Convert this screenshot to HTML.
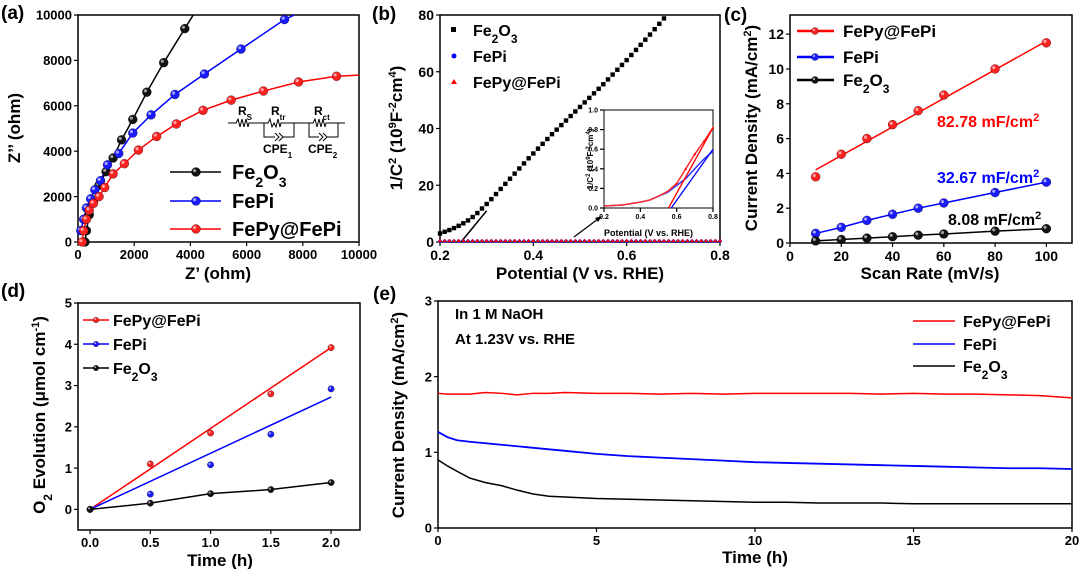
<!DOCTYPE html>
<html><head><meta charset="utf-8"><style>
body{margin:0;background:#fff}
svg{display:block;font-family:"Liberation Sans",Arial,sans-serif;font-weight:bold}
</style></head><body>
<svg id="fig" width="1080" height="569" viewBox="0 0 1080 569" xmlns="http://www.w3.org/2000/svg"></svg>
<script>
// ---- panel (a) EIS data ----
const aFe2O3X=[250,300,400,550,750,1000,1250,1550,1950,2450,3050,3800];
const aFe2O3Y=[0,500,1200,1800,2500,3100,3700,4500,5400,6600,7900,9400];
const aFePiX=[100,200,300,450,600,800,1050,1450,1950,2600,3450,4500,5800,7350];
const aFePiY=[500,1000,1500,1900,2300,2700,3400,3900,4800,5600,6500,7400,8500,9800];
const aFePyX=[150,200,300,400,550,750,950,1250,1650,2150,2800,3500,4450,5450,6600,7850,9200];
const aFePyY=[0,500,1000,1400,1700,2000,2400,3000,3450,4050,4650,5200,5800,6250,6650,7050,7300];
const aTicksX=[0,2000,4000,6000,8000,10000];
const aTicksY=[0,2000,4000,6000,8000,10000];
// ---- panel (b) Mott-Schottky ----
const bPot=[0.20,0.21,0.22,0.23,0.24,0.25,0.26,0.27,0.28,0.29,0.30,0.31,0.32,0.33,0.34,0.35,0.36,0.37,0.38,0.39,0.40,0.41,0.42,0.43,0.44,0.45,0.46,0.47,0.48,0.49,0.50,0.51,0.52,0.53,0.54,0.55,0.56,0.57,0.58,0.59,0.60,0.61,0.62,0.63,0.64,0.65,0.66,0.67,0.68];
const bFe2O3=[3,3.6,4.2,4.9,5.7,6.6,7.6,8.8,10.2,11.8,13.4,15.1,16.9,18.7,20.5,22.3,24.1,25.9,27.7,29.5,31.2,32.9,34.6,36.3,38,39.6,41.2,42.8,44.4,46,47.6,49.2,50.8,52.4,54,55.6,57.3,59,60.7,62.4,64.1,65.9,67.7,69.5,71.3,73.1,75,76.9,78.8];
const bFePiLevel=0.3;
const bFePyLevel=0.5;
const bTicksX=[0.2,0.4,0.6,0.8];
const bTicksY=[0,20,40,60,80];
const insPot=[0.2,0.3,0.4,0.45,0.5,0.55,0.6,0.65,0.7,0.75,0.8];
const insFePy=[0.02,0.03,0.06,0.08,0.12,0.17,0.25,0.40,0.55,0.68,0.82];
const insFePi=[0.02,0.03,0.06,0.08,0.12,0.16,0.23,0.30,0.40,0.50,0.58];
// ---- panel (c) ----
const cRate=[10,20,30,40,50,60,80,100];
const cFePy=[3.8,5.1,6.0,6.8,7.6,8.5,10.0,11.5];
const cFePi=[0.55,0.9,1.3,1.65,2.0,2.3,2.9,3.5];
const cFe2O3=[0.12,0.2,0.28,0.36,0.45,0.52,0.68,0.82];
const cFitFePy=[4.2,11.6];
const cTicksX=[0,20,40,60,80,100];
const cTicksY=[0,2,4,6,8,10,12];
// ---- panel (d) ----
const dTime=[0,0.5,1,1.5,2];
const dFePy=[0,1.1,1.85,2.8,3.92];
const dFePi=[0,0.37,1.08,1.82,2.92];
const dFe2O3=[0,0.15,0.38,0.48,0.65];
const dFitFePy=[0,3.92];
const dFitFePi=[0,2.72];
const dTicksX=[0,0.5,1,1.5,2];
const dTicksY=[0,1,2,3,4,5];
// ---- panel (e) ----
const eTime=[0,0.3,0.6,1,1.5,2,2.5,3,3.5,4,5,6,7,8,9,10,11,12,13,14,15,16,17,18,19,20];
const eFePy=[1.78,1.77,1.77,1.77,1.79,1.78,1.76,1.78,1.78,1.79,1.78,1.78,1.77,1.78,1.77,1.78,1.78,1.78,1.78,1.77,1.78,1.77,1.77,1.76,1.75,1.72];
const eFePi=[1.27,1.2,1.16,1.14,1.12,1.1,1.08,1.06,1.04,1.02,0.98,0.95,0.93,0.91,0.89,0.87,0.86,0.85,0.84,0.83,0.82,0.81,0.80,0.79,0.79,0.78];
const eFe2O3=[0.9,0.82,0.75,0.66,0.6,0.56,0.5,0.45,0.42,0.41,0.39,0.38,0.37,0.36,0.35,0.34,0.34,0.33,0.33,0.33,0.32,0.32,0.32,0.32,0.32,0.32];
const eTicksX=[0,5,10,15,20];
const eTicksY=[0,1,2,3];

const svg=document.getElementById('fig');
const NS='http://www.w3.org/2000/svg';
function mk(tag,attrs,name,parent){
  const e=document.createElementNS(NS,tag);
  for(const k in attrs)e.setAttribute(k,attrs[k]);
  
  
  (parent||svg).appendChild(e);
  return e;
}
function txt(x,y,s,size,name,opts){
  opts=opts||{};
  const t=mk('text',{x:x,y:y,'font-size':size,fill:opts.fill||'#000','text-anchor':opts.anchor||'start'},name);
  if(opts.rot)t.setAttribute('transform','rotate(-90 '+x+' '+y+')');
  t.innerHTML=s;
  return t;
}
function axes(c){
  const sx=v=>c.x0+(v-c.xmin)/(c.xmax-c.xmin)*(c.x1-c.x0);
  const sy=v=>c.y1-(v-c.ymin)/(c.ymax-c.ymin)*(c.y1-c.y0);
  mk('rect',{x:c.x0,y:c.y0,width:c.x1-c.x0,height:c.y1-c.y0,fill:'none',stroke:'#000','stroke-width':c.sw||1.5},c.p+'-frame');
  c.tx.forEach(v=>{
    mk('line',{x1:sx(v),x2:sx(v),y1:c.y1,y2:c.y1+4,stroke:'#000','stroke-width':1.2},c.p+'-x-tick');
    txt(sx(v),c.y1+(c.fs||14)+4,c.fx?c.fx(v):v,c.fs||14,c.p+'-x-tick-label',{anchor:'middle'});
  });
  c.ty.forEach(v=>{
    mk('line',{x1:c.x0-4,x2:c.x0,y1:sy(v),y2:sy(v),stroke:'#000','stroke-width':1.2},c.p+'-y-tick');
    txt(c.x0-6,sy(v)+(c.fs||14)*0.36,c.fy?c.fy(v):v,c.fs||14,c.p+'-y-tick-label',{anchor:'end'});
  });
  return {sx,sy};
}
function poly(xs,ys,A,col,name,w){
  mk('polyline',{points:xs.map((x,i)=>A.sx(x)+','+A.sy(ys[i])).join(' '),fill:'none',stroke:col,'stroke-width':w||1.5},name);
}
function ball(x,y,col,r,name){
  mk('circle',{cx:x,cy:y,r:r,fill:col,stroke:'#000','stroke-width':0.3},name);
  mk('circle',{cx:x-r*0.3,cy:y-r*0.3,r:r*0.35,fill:'#fff',opacity:0.6},name+'-shine');
}
function dots(xs,ys,A,col,name,r){xs.forEach((x,i)=>ball(A.sx(x),A.sy(ys[i]),col,r,name));}

// ===== (a) =====
txt(1,19,'(a)',19,'panel-a-label');
let A=axes({p:'a',x0:78,x1:359,y0:15,y1:242,xmin:0,xmax:10000,ymin:0,ymax:10000,tx:aTicksX,ty:aTicksY,fs:13});
poly(aFe2O3X.concat([4100]),aFe2O3Y.concat([10000]),A,'#000','a-line-fe2o3');
poly(aFePiX.concat([7700]),aFePiY.concat([10000]),A,'#0000ff','a-line-fepi');
poly(aFePyX.concat([10000]),aFePyY.concat([7350]),A,'#ff0000','a-line-fepy');
dots(aFe2O3X,aFe2O3Y,A,'#111','a-point-fe2o3',4.5);
dots(aFePiX,aFePiY,A,'#1a1aff','a-point-fepi',4.5);
dots(aFePyX,aFePyY,A,'#ff2020','a-point-fepy',4.5);
txt(20,128,'Z’’ (ohm)',17,'a-y-axis-title',{anchor:'middle',rot:1});
txt(218,279,'Z’ (ohm)',17,'a-x-axis-title',{anchor:'middle'});
[['#000','#111','Fe<tspan baseline-shift="sub" font-size="14">2</tspan>O<tspan baseline-shift="sub" font-size="14">3</tspan>',172],['#0000ff','#1a1aff','FePi',201],['#ff0000','#ff2020','FePy@FePi',229]].forEach((l,i)=>{
  mk('line',{x1:170,x2:221,y1:l[3],y2:l[3],stroke:l[0],'stroke-width':1.5},'a-legend-line');
  ball(196,l[3],l[1],4.5,'a-legend-marker');
  txt(232,l[3]+7,l[2],20,'a-legend-entry');
});
// circuit
const cg='#000';
mk('path',{d:'M228 123 H236 l2 -4 l2 8 l2 -8 l2 8 l2 -8 l2 8 l1 -4 H264 M264 123 H268 l2 -4 l2 8 l2 -4 l2 4 l2 -8 l2 8 l1 -4 H294 M264 123 V137 H275 M283 137 H294 V123 M294 123 H309 M309 123 H313 l2 -4 l2 8 l2 -8 l2 8 l2 -8 l2 8 l1 -4 H338 M309 123 V137 H319 M327 137 H338 V123 M338 123 H345 M275 133 l4 4 l-4 4 M279 133 l4 4 l-4 4 M319 133 l4 4 l-4 4 M323 133 l4 4 l-4 4',fill:'none',stroke:cg,'stroke-width':1},'a-circuit-diagram');
txt(238,115,'R<tspan font-size="8" baseline-shift="sub">S</tspan>',12,'a-circuit-rs');
txt(271,115,'R<tspan font-size="8" baseline-shift="sub">tr</tspan>',12,'a-circuit-rtr');
txt(314,115,'R<tspan font-size="8" baseline-shift="sub">ct</tspan>',12,'a-circuit-rct');
txt(263,153,'CPE<tspan font-size="8" baseline-shift="sub">1</tspan>',12,'a-circuit-cpe1');
txt(308,153,'CPE<tspan font-size="8" baseline-shift="sub">2</tspan>',12,'a-circuit-cpe2');

// ===== (b) =====
txt(372,20,'(b)',19,'panel-b-label');
let B=axes({p:'b',x0:440,x1:720,y0:15,y1:242,xmin:0.2,xmax:0.8,ymin:0,ymax:80,tx:bTicksX,ty:bTicksY,fs:14,fx:v=>v.toFixed(1)});
mk('line',{x1:B.sx(0.245),y1:B.sy(0),x2:B.sx(0.30),y2:B.sy(11),stroke:'#000','stroke-width':1.5},'b-fit-line-fe2o3');
bPot.forEach((p,i)=>mk('rect',{x:B.sx(p)-2.2,y:B.sy(bFe2O3[i])-2.2,width:4.4,height:4.4,fill:'#000'},'b-point-fe2o3'));
for(let p=0.2;p<=0.801;p+=0.01){
  mk('circle',{cx:B.sx(p),cy:B.sy(bFePiLevel),r:1.8,fill:'#0000ff'},'b-point-fepi');
  mk('path',{d:'M'+(B.sx(p)-2)+' '+(B.sy(bFePyLevel)+1.5)+' l2 -3.5 l2 3.5z',fill:'#ff0000'},'b-point-fepy');
}
mk('path',{d:'M574 237 L598 219',stroke:'#000','stroke-width':1.2,fill:'none'},'b-arrow');
mk('path',{d:'M602 216 l-7 2 l3 4z',fill:'#000'},'b-arrow-head');
txt(402,128,'1/C<tspan baseline-shift="super" font-size="11">2</tspan> (10<tspan baseline-shift="super" font-size="11">9</tspan>F<tspan baseline-shift="super" font-size="11">-2</tspan>cm<tspan baseline-shift="super" font-size="11">4</tspan>)',17,'b-y-axis-title',{anchor:'middle',rot:1});
txt(580,279,'Potential (V vs. RHE)',17,'b-x-axis-title',{anchor:'middle'});
mk('rect',{x:451,y:27,width:5,height:5,fill:'#000'},'b-legend-marker-fe2o3');
mk('circle',{cx:454,cy:56,r:2.5,fill:'#0000ff'},'b-legend-marker-fepi');
mk('path',{d:'M451 84 l3 -5 l3 5z',fill:'#ff0000'},'b-legend-marker-fepy');
txt(473,36,'Fe<tspan baseline-shift="sub" font-size="12">2</tspan>O<tspan baseline-shift="sub" font-size="12">3</tspan>',16,'b-legend-entry-fe2o3');
txt(473,62,'FePi',16,'b-legend-entry-fepi');
txt(473,88,'FePy@FePi',16,'b-legend-entry-fepy');
// inset
let I=axes({p:'b-inset',x0:604,x1:713,y0:110,y1:208,xmin:0.2,xmax:0.8,ymin:0,ymax:1,tx:[0.2,0.4,0.6,0.8],ty:[0,0.2,0.4,0.6,0.8,1.0],fs:7,sw:1,fx:v=>v.toFixed(1),fy:v=>v.toFixed(1)});
poly(insPot,insFePi,I,'#3030ff','b-inset-fepi',1.5);
poly(insPot,insFePy,I,'#ff3030','b-inset-fepy',1.5);
insPot.forEach((p,i)=>{if(p>=0.6)mk('path',{d:'M'+(I.sx(p)-1.5)+' '+(I.sy(insFePy[i])+1)+' l1.5 -2.5 l1.5 2.5z',fill:'#ff0000'},'b-inset-point-fepy');});
mk('line',{x1:I.sx(0.555),y1:I.sy(0),x2:I.sx(0.8),y2:I.sy(0.82),stroke:'#ff0000','stroke-width':1.3},'b-inset-fit-fepy');
mk('line',{x1:I.sx(0.57),y1:I.sy(0),x2:I.sx(0.8),y2:I.sy(0.6),stroke:'#0000ff','stroke-width':1.3},'b-inset-fit-fepi');
txt(593,159,'1/C<tspan baseline-shift="super" font-size="6">2</tspan> (10<tspan baseline-shift="super" font-size="6">9</tspan>F<tspan baseline-shift="super" font-size="6">-2</tspan>cm<tspan baseline-shift="super" font-size="6">4</tspan>)',8,'b-inset-y-title',{anchor:'middle',rot:1});
txt(604,236,'Potential (V vs. RHE)',9,'b-inset-x-title');

// ===== (c) =====
txt(724,21,'(c)',19,'panel-c-label');
let C=axes({p:'c',x0:790,x1:1072,y0:15,y1:243,xmin:0,xmax:110,ymin:0,ymax:13.1,tx:cTicksX,ty:cTicksY,fs:14});
mk('line',{x1:C.sx(10),y1:C.sy(cFitFePy[0]),x2:C.sx(100),y2:C.sy(cFitFePy[1]),stroke:'#ff0000','stroke-width':1.5},'c-fit-fepy');
poly(cRate,cFePi,C,'#0000ff','c-line-fepi');
poly(cRate,cFe2O3,C,'#000','c-line-fe2o3');
dots(cRate,cFePy,C,'#ff2020','c-point-fepy',4.5);
dots(cRate,cFePi,C,'#1a1aff','c-point-fepi',4.5);
dots(cRate,cFe2O3,C,'#111','c-point-fe2o3',4.5);
txt(757,128,'Current Density (mA/cm<tspan baseline-shift="super" font-size="11">2</tspan>)',17,'c-y-axis-title',{anchor:'middle',rot:1});
txt(930,279,'Scan Rate (mV/s)',17,'c-x-axis-title',{anchor:'middle'});
[['#ff0000','#ff2020','FePy@FePi',31],['#0000ff','#1a1aff','FePi',57],['#000','#111','Fe<tspan baseline-shift="sub" font-size="12">2</tspan>O<tspan baseline-shift="sub" font-size="12">3</tspan>',80]].forEach(l=>{
  mk('line',{x1:797,x2:834,y1:l[3],y2:l[3],stroke:l[0],'stroke-width':2.5},'c-legend-line');
  ball(815,l[3],l[1],3.5,'c-legend-marker');
  txt(843,l[3]+6,l[2],17,'c-legend-entry');
});
txt(937,127,'82.78 mF/cm<tspan baseline-shift="super" font-size="11">2</tspan>',16,'c-annotation-fepy',{fill:'#ff0000'});
txt(937,183,'32.67 mF/cm<tspan baseline-shift="super" font-size="11">2</tspan>',16,'c-annotation-fepi',{fill:'#0000ff'});
txt(948,225,'8.08 mF/cm<tspan baseline-shift="super" font-size="11">2</tspan>',16,'c-annotation-fe2o3');

// ===== (d) =====
txt(1,297,'(d)',19,'panel-d-label');
let D=axes({p:'d',x0:78,x1:360,y0:303,y1:530,xmin:-0.1,xmax:2.24,ymin:-0.5,ymax:5,tx:dTicksX,ty:dTicksY,fs:13,fx:v=>v.toFixed(1)});
mk('line',{x1:D.sx(0),y1:D.sy(dFitFePy[0]),x2:D.sx(2),y2:D.sy(dFitFePy[1]),stroke:'#ff0000','stroke-width':1.5},'d-fit-fepy');
mk('line',{x1:D.sx(0),y1:D.sy(dFitFePi[0]),x2:D.sx(2),y2:D.sy(dFitFePi[1]),stroke:'#0000ff','stroke-width':1.5},'d-fit-fepi');
poly(dTime,dFe2O3,D,'#000','d-line-fe2o3');
dots(dTime,dFePy,D,'#ff2020','d-point-fepy',3.2);
dots(dTime,dFePi,D,'#1a1aff','d-point-fepi',3.2);
dots(dTime,dFe2O3,D,'#111','d-point-fe2o3',3.2);
txt(45,415,'O<tspan baseline-shift="sub" font-size="12">2</tspan> Evolution (μmol cm<tspan baseline-shift="super" font-size="11">-1</tspan>)',17,'d-y-axis-title',{anchor:'middle',rot:1});
txt(220,566,'Time (h)',17,'d-x-axis-title',{anchor:'middle'});
[['#ff0000','#ff2020','FePy@FePi',320],['#0000ff','#1a1aff','FePi',344],['#000','#111','Fe<tspan baseline-shift="sub" font-size="12">2</tspan>O<tspan baseline-shift="sub" font-size="12">3</tspan>',368]].forEach(l=>{
  mk('line',{x1:83,x2:109,y1:l[3],y2:l[3],stroke:l[0],'stroke-width':1.5},'d-legend-line');
  ball(96,l[3],l[1],2.8,'d-legend-marker');
  txt(113,l[3]+6,l[2],16,'d-legend-entry');
});

// ===== (e) =====
txt(373,300,'(e)',19,'panel-e-label');
let E=axes({p:'e',x0:438,x1:1072,y0:301,y1:528,xmin:0,xmax:20,ymin:0,ymax:3,tx:eTicksX,ty:eTicksY,fs:13});
poly(eTime,eFePy,E,'#ff0000','e-line-fepy',1.5);
poly(eTime,eFePi,E,'#0000ff','e-line-fepi',1.8);
poly(eTime,eFe2O3,E,'#000','e-line-fe2o3',1.5);
txt(404,415,'Current Density (mA/cm<tspan baseline-shift="super" font-size="11">2</tspan>)',17,'e-y-axis-title',{anchor:'middle',rot:1});
txt(755,563,'Time (h)',17,'e-x-axis-title',{anchor:'middle'});
txt(455,319,'In 1 M NaOH',15,'e-condition-electrolyte');
txt(455,344,'At 1.23V vs. RHE',15,'e-condition-potential');
[['#ff0000','FePy@FePi',321],['#0000ff','FePi',344],['#000','Fe<tspan baseline-shift="sub" font-size="12">2</tspan>O<tspan baseline-shift="sub" font-size="12">3</tspan>',366]].forEach(l=>{
  mk('line',{x1:913,x2:955,y1:l[2],y2:l[2],stroke:l[0],'stroke-width':1.5},'e-legend-line');
  txt(963,l[2]+6,l[1],16,'e-legend-entry');
});
</script>
</body></html>
